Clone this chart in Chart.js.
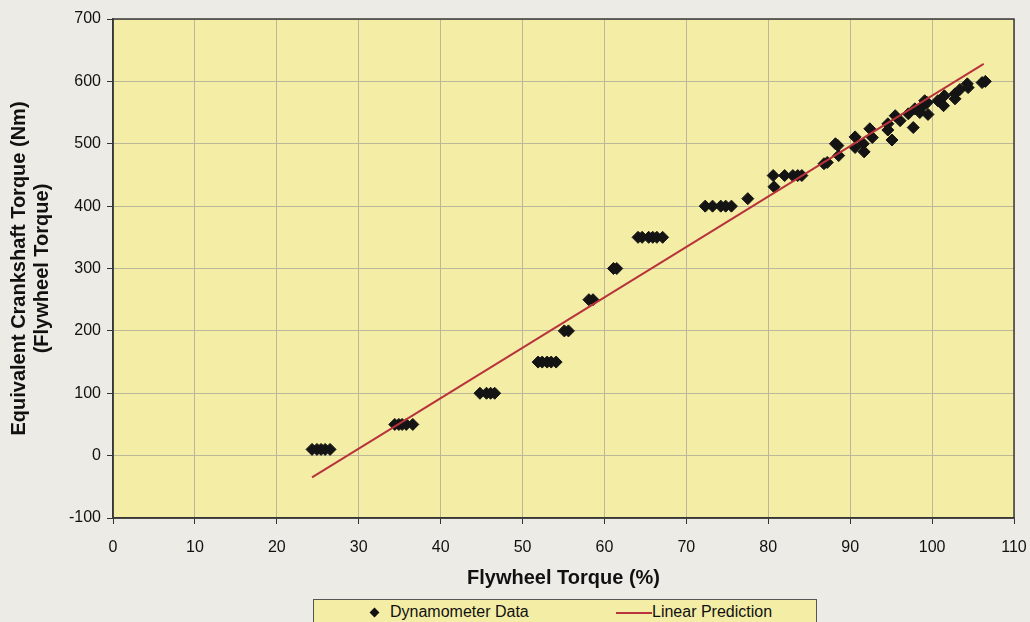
<!DOCTYPE html>
<html>
<head>
<meta charset="utf-8">
<script src="https://cdn.jsdelivr.net/npm/chart.js@4"></script>
<style>
  html, body { margin: 0; padding: 0; background: #ecebe5; }
  #wrap { position: relative; width: 1030px; height: 622px; overflow: hidden; }
  #legend {
    position: absolute; left: 313px; top: 599px; width: 502px; height: 30px;
    background: #f4eda6; border: 1px solid #555;
    font: 16px "Liberation Sans", Arial, sans-serif; color: #111;
  }
  #legend span { position: absolute; top: 3px; white-space: nowrap; }
  .diamond { position: absolute; left: 57px; top: 9px; width: 7px; height: 7px; background: #111; transform: rotate(45deg); }
  .redline { position: absolute; left: 302px; top: 12px; width: 36px; height: 2px; background: #b8333b; }
</style>
</head>
<body>
<div id="wrap">
  <canvas id="chart" width="1030" height="622"></canvas>
  <div id="legend">
    <div class="diamond"></div><span style="left:76px">Dynamometer Data</span>
    <div class="redline"></div><span style="left:338px">Linear Prediction</span>
  </div>
</div>
<script>
(() => {
    // dynamometer readings: flywheel torque (%) vs equivalent crankshaft torque (Nm)
    const flywheelPct = [
        24.3, 24.9, 25.4, 25.9, 26.5,
        34.4, 34.9, 35.3, 35.8, 36.6,
        44.8, 45.6, 46.1, 46.6,
        51.9, 52.4, 53.0, 53.5, 54.1,
        55.1, 55.6,
        58.1, 58.6,
        61.1, 61.5,
        64.1, 64.6, 65.4, 65.9, 66.4, 67.1,
        72.3, 73.2, 74.2, 74.8, 75.5,
        77.5, 80.6, 80.7, 82.0, 83.0, 83.6, 84.1,
        86.8, 87.2, 88.2, 88.5, 88.6,
        90.6, 90.6, 91.6, 91.7, 92.4, 92.7,
        94.6, 94.6, 95.1, 95.5, 96.1, 97.1, 97.7, 97.9, 98.5, 98.9, 99.1, 99.5, 99.4,
        100.7, 101.5, 101.4, 102.8, 102.8, 103.4, 104.3, 104.4, 106.1, 106.5
    ];
    const crankshaftNm = [
        10, 10, 10, 10, 10,
        50, 50, 50, 50, 50,
        100, 100, 100, 100,
        150, 150, 150, 150, 150,
        200, 200,
        250, 250,
        300, 300,
        350, 350, 350, 350, 350, 350,
        400, 400, 400, 400, 400,
        412, 449, 431, 449, 449, 449, 449,
        468, 470, 500, 497, 481,
        511, 494, 500, 487, 524, 510,
        532, 522, 506, 545, 537, 548, 526, 556, 550, 561, 569, 547, 566,
        569, 577, 561, 580, 572, 587, 596, 590, 598, 600
    ];
    // linear prediction line ends
    const predictionPct = [24.3, 106.3];
    const predictionNm = [-35, 628];

    const xTicks = [0, 10, 20, 30, 40, 50, 60, 70, 80, 90, 100, 110];
    const yTicks = [-100, 0, 100, 200, 300, 400, 500, 600, 700];

    const font = '"Liberation Sans", Arial, sans-serif';

    const plotBg = {
        id: 'plotBg',
        beforeDraw: chart => {
            const {ctx, chartArea: a} = chart;
            ctx.save();
            ctx.fillStyle = '#f4eda6';
            ctx.fillRect(a.left, a.top, a.right - a.left, a.bottom - a.top);
            ctx.restore();
        },
        afterDatasetsDraw: chart => {
            const {ctx, chartArea: a} = chart;
            ctx.save();
            ctx.strokeStyle = '#3a3a3a';
            ctx.lineWidth = 1.5;
            ctx.strokeRect(a.left, a.top, a.right - a.left, a.bottom - a.top);
            ctx.restore();
        }
    };

    new Chart(document.getElementById('chart'), {
        type: 'scatter',
        data: {
            datasets: [{
                label: 'Dynamometer Data',
                data: flywheelPct.map((x, i) => ({x, y: crankshaftNm[i]})),
                pointStyle: 'rectRot',
                pointRadius: 6,
                backgroundColor: '#141414',
                borderColor: '#141414',
                borderWidth: 1,
                borderJoinStyle: 'round',
                order: 2
            }, {
                label: 'Linear Prediction',
                type: 'line',
                data: predictionPct.map((x, i) => ({x, y: predictionNm[i]})),
                borderColor: '#b8333b',
                borderWidth: 2,
                pointRadius: 0,
                fill: false,
                order: 1
            }]
        },
        options: {
            responsive: false,
            animation: false,
            layout: {padding: {top: 19, right: 16, left: 8, bottom: 30}},
            plugins: {
                legend: {display: false},
                tooltip: {enabled: false}
            },
            scales: {
                x: {
                    type: 'linear',
                    min: 0,
                    max: 110,
                    afterBuildTicks: axis => { axis.ticks = xTicks.map(value => ({value})); },
                    afterFit: axis => {
                        axis.height = 74;
                        axis.paddingLeft = 0;
                        axis.paddingRight = 0;
                    },
                    grid: {color: '#bdb79a', lineWidth: 1, tickLength: 6, tickColor: '#333'},
                    border: {color: '#333', width: 1.5},
                    ticks: {color: '#111', font: {family: font, size: 16}, padding: 14, maxRotation: 0},
                    title: {
                        display: true,
                        text: 'Flywheel Torque (%)',
                        color: '#111',
                        font: {family: font, size: 20, weight: 'bold', lineHeight: 1.2},
                        padding: {top: 0, bottom: 2}
                    }
                },
                y: {
                    min: -100,
                    max: 700,
                    afterBuildTicks: axis => { axis.ticks = yTicks.map(value => ({value})); },
                    afterFit: axis => {
                        axis.width = 105;
                        axis.paddingTop = 0;
                        axis.paddingBottom = 0;
                    },
                    grid: {color: '#bdb79a', lineWidth: 1, tickLength: 6, tickColor: '#333'},
                    border: {color: '#333', width: 1.5},
                    ticks: {color: '#111', font: {family: font, size: 16}, padding: 6},
                    title: {
                        display: true,
                        text: ['Equivalent Crankshaft Torque (Nm)', '(Flywheel Torque)'],
                        color: '#111',
                        font: {family: font, size: 20, weight: 'bold', lineHeight: 1.15},
                        padding: {top: 0, bottom: 2}
                    }
                }
            }
        },
        plugins: [plotBg]
    });
})();
</script>
</body>
</html>
